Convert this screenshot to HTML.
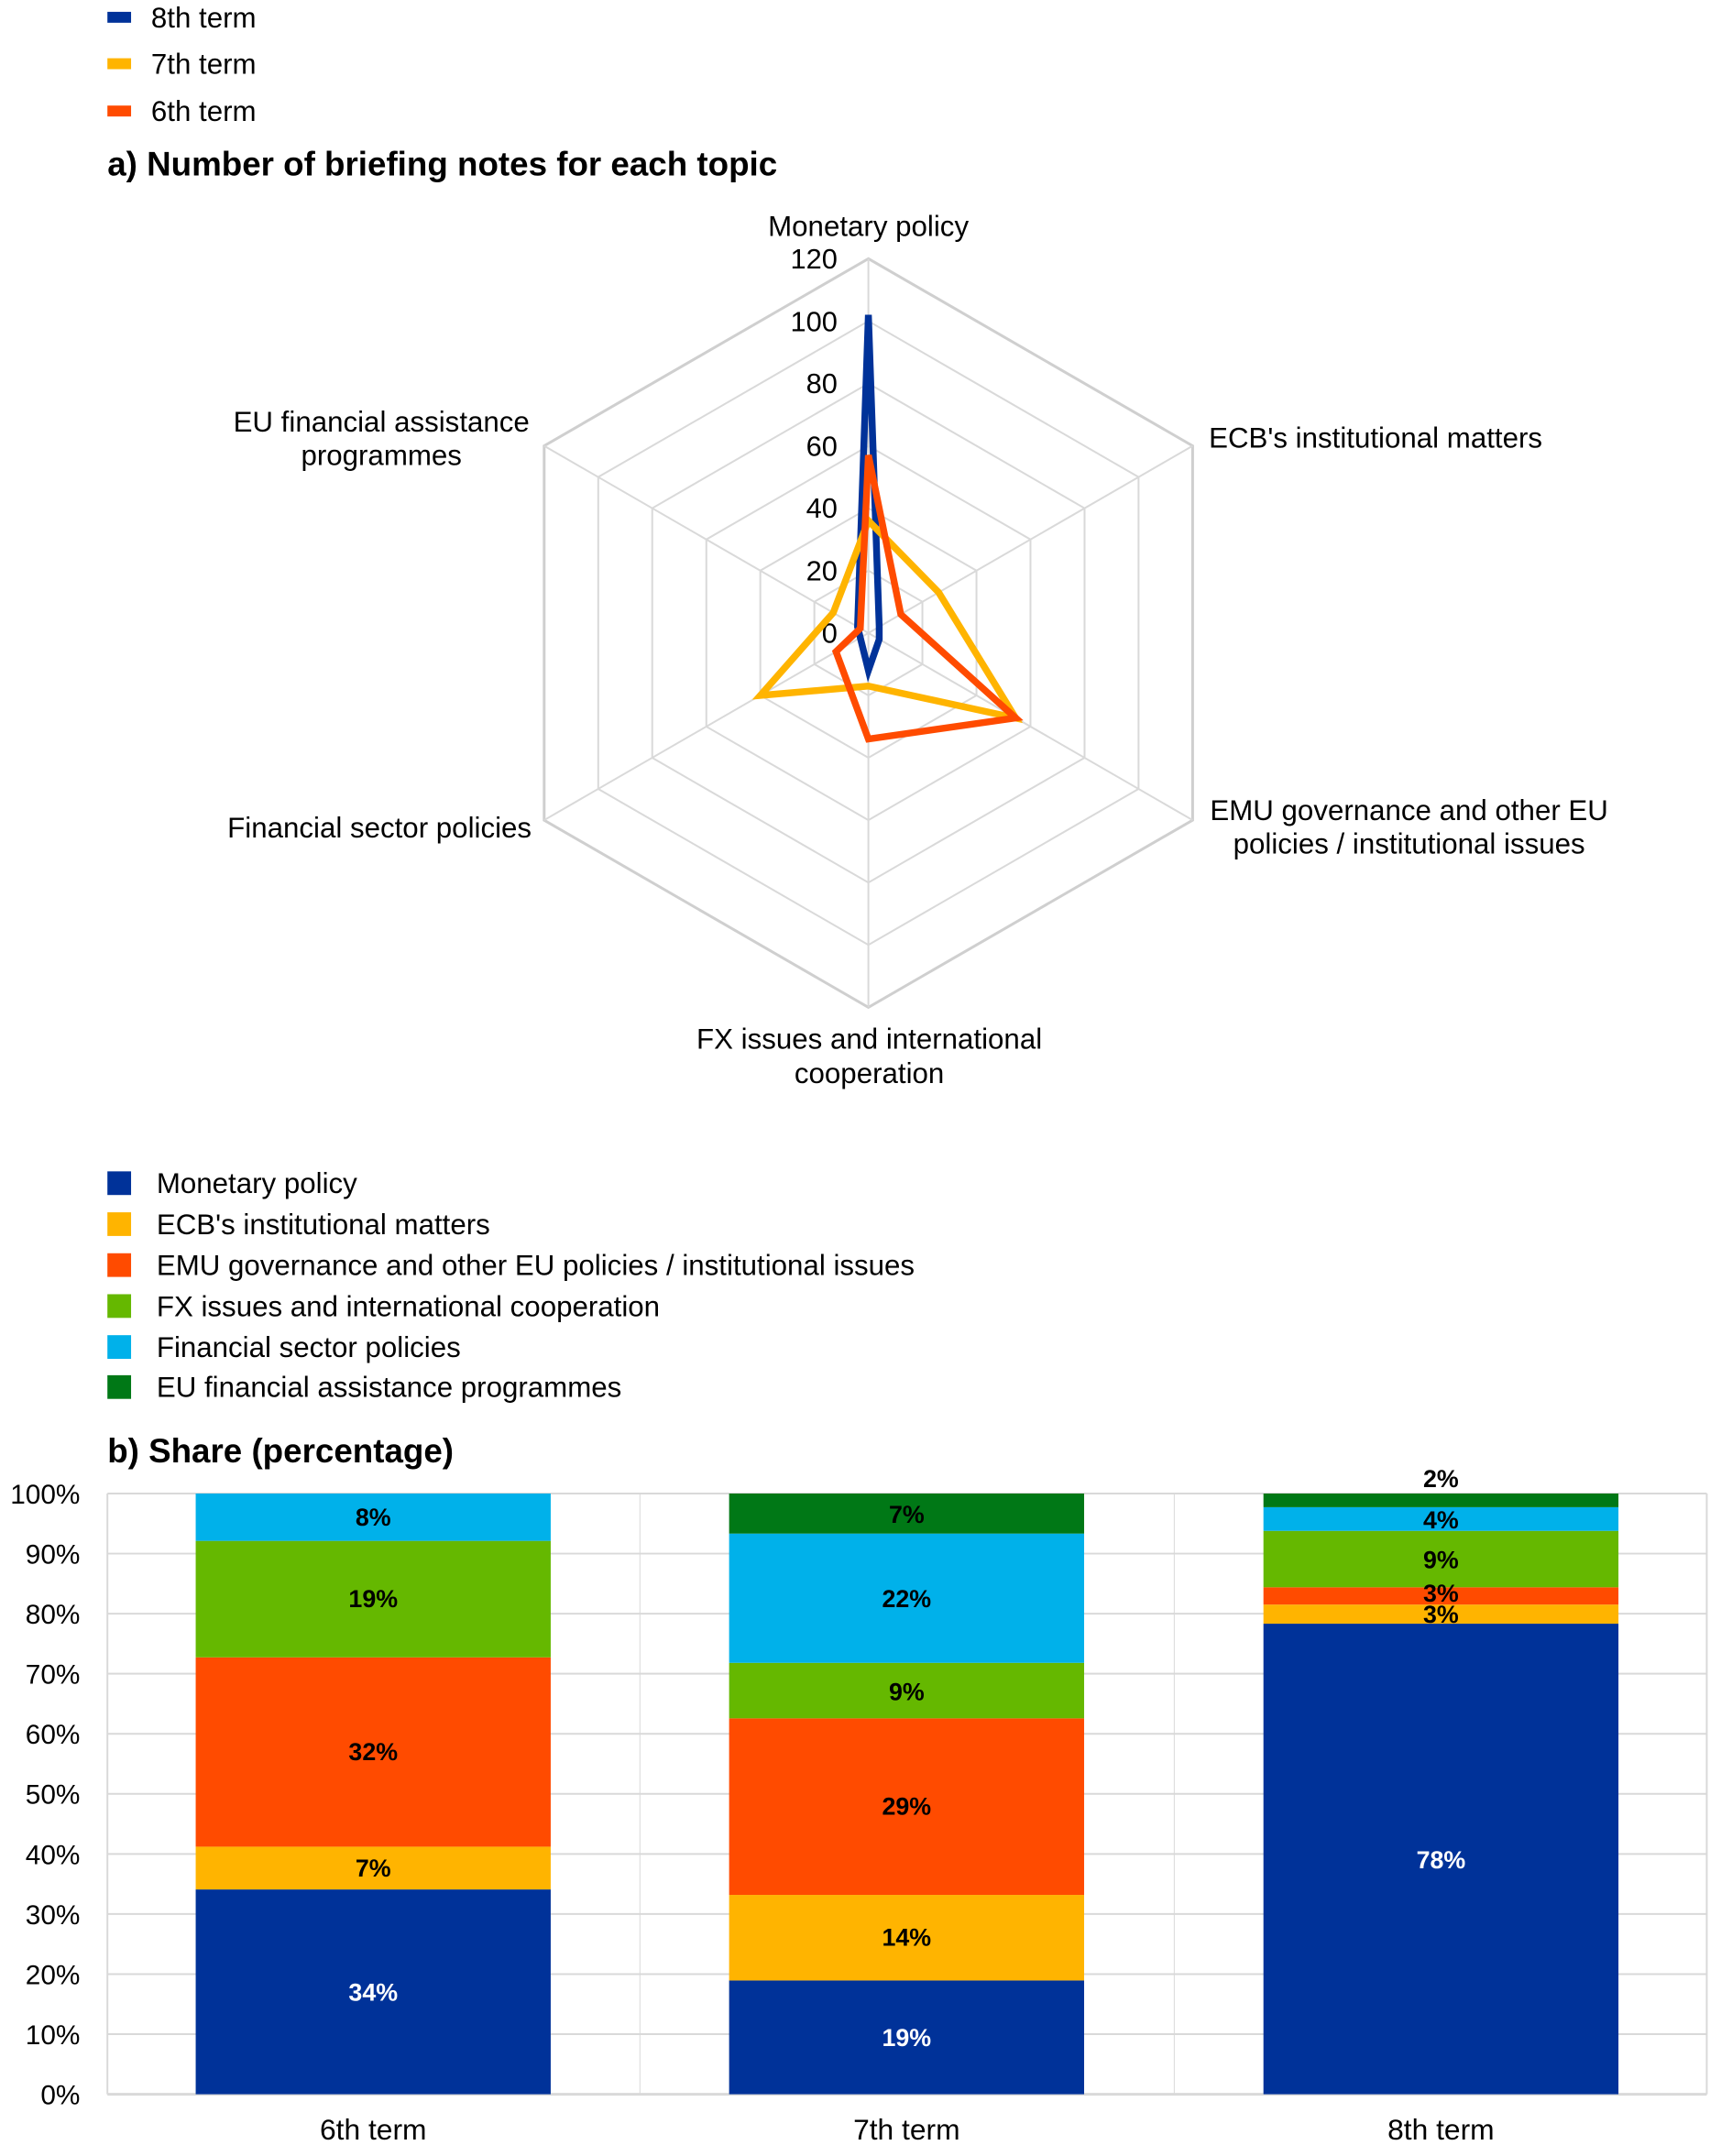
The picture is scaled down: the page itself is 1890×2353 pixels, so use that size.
<!DOCTYPE html>
<html><head><meta charset="utf-8"><style>
body{margin:0;background:#fff}
svg{display:block;font-family:"Liberation Sans",Arial,sans-serif}
</style></head><body>
<svg width="1890" height="2353" viewBox="0 0 1890 2353" xmlns="http://www.w3.org/2000/svg">
<g transform="scale(0.9933)">
<!-- legend a -->
<rect x="118" y="13" width="26" height="12" fill="#003299"/>
<rect x="118" y="64" width="26" height="12" fill="#ffb400"/>
<rect x="118" y="116" width="26" height="12" fill="#ff4b00"/>
<g font-size="31.5" fill="#000">
<text x="166" y="30">8th term</text>
<text x="166" y="81">7th term</text>
<text x="166" y="133">6th term</text>
</g>
<text x="118" y="193" font-size="37" font-weight="bold">a) Number of briefing notes for each topic</text>

<!-- radar grid -->
<g fill="none" stroke="#d9d9d9" stroke-width="2">
<polygon points="0,-1 0.866,-0.5 0.866,0.5 0,1 -0.866,0.5 -0.866,-0.5" transform="translate(954,695.5) scale(68.55)" vector-effect="non-scaling-stroke"/>
<polygon points="0,-1 0.866,-0.5 0.866,0.5 0,1 -0.866,0.5 -0.866,-0.5" transform="translate(954,695.5) scale(137.1)" vector-effect="non-scaling-stroke"/>
<polygon points="0,-1 0.866,-0.5 0.866,0.5 0,1 -0.866,0.5 -0.866,-0.5" transform="translate(954,695.5) scale(205.6)" vector-effect="non-scaling-stroke"/>
<polygon points="0,-1 0.866,-0.5 0.866,0.5 0,1 -0.866,0.5 -0.866,-0.5" transform="translate(954,695.5) scale(274.2)" vector-effect="non-scaling-stroke"/>
<polygon points="0,-1 0.866,-0.5 0.866,0.5 0,1 -0.866,0.5 -0.866,-0.5" transform="translate(954,695.5) scale(342.7)" vector-effect="non-scaling-stroke"/>
<polygon points="0,-1 0.866,-0.5 0.866,0.5 0,1 -0.866,0.5 -0.866,-0.5" transform="translate(954,695.5) scale(411.3)" vector-effect="non-scaling-stroke" stroke="#cfcfcf" stroke-width="3"/>
<line x1="954" y1="695.5" x2="954" y2="284.2"/>
<line x1="954" y1="695.5" x2="1310.2" y2="489.9"/>
<line x1="954" y1="695.5" x2="1310.2" y2="901.1"/>
<line x1="954" y1="695.5" x2="954" y2="1106.8"/>
<line x1="954" y1="695.5" x2="597.8" y2="901.1"/>
<line x1="954" y1="695.5" x2="597.8" y2="489.9"/>
</g>
<g font-size="31" text-anchor="end">
<text x="920" y="295">120</text>
<text x="920" y="364">100</text>
<text x="920" y="432">80</text>
<text x="920" y="501">60</text>
<text x="920" y="569">40</text>
<text x="920" y="638">20</text>
<text x="920" y="706">0</text>
</g>
<!-- radar series -->
<g fill="none" stroke-width="7.5" stroke-linejoin="miter">
<polygon stroke="#003299" points="954,345.9 965.9,688.6 965.9,702.4 954,736.6 945.1,700.6 942.1,688.6"/>
<polygon stroke="#ffb400" points="954,572.1 1031.2,650.9 1115.8,788.9 954,753.8 835.3,764.1 915.4,673.2"/>
<polygon stroke="#ff4b00" points="954,500.1 989.6,675 1115.8,788.9 954,812 918.4,716 945.1,690.4"/>
</g>
<!-- radar labels -->
<g font-size="31.5">
<text x="954" y="259" text-anchor="middle">Monetary policy</text>
<text x="1328" y="492">ECB's institutional matters</text>
<text x="1548" y="901" text-anchor="middle">EMU governance and other EU</text>
<text x="1548" y="938" text-anchor="middle">policies / institutional issues</text>
<text x="955" y="1152" text-anchor="middle">FX issues and international</text>
<text x="955" y="1190" text-anchor="middle">cooperation</text>
<text x="584" y="920" text-anchor="end">Financial sector policies</text>
<text x="419" y="474" text-anchor="middle">EU financial assistance</text>
<text x="419" y="511" text-anchor="middle">programmes</text>
</g>

<!-- legend b -->
<rect x="118" y="1287" width="26" height="26" fill="#003299"/>
<rect x="118" y="1332" width="26" height="26" fill="#ffb400"/>
<rect x="118" y="1377" width="26" height="26" fill="#ff4b00"/>
<rect x="118" y="1422" width="26" height="26" fill="#65b800"/>
<rect x="118" y="1467" width="26" height="26" fill="#00b1ea"/>
<rect x="118" y="1511" width="26" height="26" fill="#007816"/>
<g font-size="31.5">
<text x="172" y="1311">Monetary policy</text>
<text x="172" y="1356">ECB's institutional matters</text>
<text x="172" y="1401">EMU governance and other EU policies / institutional issues</text>
<text x="172" y="1446">FX issues and international cooperation</text>
<text x="172" y="1491">Financial sector policies</text>
<text x="172" y="1535">EU financial assistance programmes</text>
</g>
<text x="118" y="1607" font-size="37" font-weight="bold">b) Share (percentage)</text>

<!-- bar grid -->
<g stroke="#d9d9d9" stroke-width="2">
<line x1="118" y1="1641" x2="1875" y2="1641"/>
<line x1="118" y1="1707" x2="1875" y2="1707"/>
<line x1="118" y1="1773" x2="1875" y2="1773"/>
<line x1="118" y1="1839" x2="1875" y2="1839"/>
<line x1="118" y1="1905" x2="1875" y2="1905"/>
<line x1="118" y1="1971" x2="1875" y2="1971"/>
<line x1="118" y1="2037" x2="1875" y2="2037"/>
<line x1="118" y1="2103" x2="1875" y2="2103"/>
<line x1="118" y1="2169" x2="1875" y2="2169"/>
<line x1="118" y1="2235" x2="1875" y2="2235"/>
<line x1="703" y1="1641" x2="703" y2="2301" stroke-width="1"/>
<line x1="1290" y1="1641" x2="1290" y2="2301" stroke-width="1"/>
<line x1="1875" y1="1641" x2="1875" y2="2301"/>
<line x1="118" y1="1641" x2="118" y2="2301"/>
<line x1="118" y1="2301" x2="1875" y2="2301" stroke-width="3"/>
</g>
<g font-size="30" text-anchor="end">
<text x="88" y="1652">100%</text>
<text x="88" y="1718">90%</text>
<text x="88" y="1784">80%</text>
<text x="88" y="1850">70%</text>
<text x="88" y="1916">60%</text>
<text x="88" y="1982">50%</text>
<text x="88" y="2048">40%</text>
<text x="88" y="2114">30%</text>
<text x="88" y="2180">20%</text>
<text x="88" y="2246">10%</text>
<text x="88" y="2312">0%</text>
</g>
<!-- bars 6th -->
<rect x="215" y="2076" width="390" height="225" fill="#003299"/>
<rect x="215" y="2029" width="390" height="47" fill="#ffb400"/>
<rect x="215" y="1821" width="390" height="208" fill="#ff4b00"/>
<rect x="215" y="1693" width="390" height="128" fill="#65b800"/>
<rect x="215" y="1641" width="390" height="52" fill="#00b1ea"/>
<!-- bars 7th -->
<rect x="801" y="2176" width="390" height="125" fill="#003299"/>
<rect x="801" y="2082" width="390" height="94" fill="#ffb400"/>
<rect x="801" y="1888" width="390" height="194" fill="#ff4b00"/>
<rect x="801" y="1827" width="390" height="61" fill="#65b800"/>
<rect x="801" y="1685" width="390" height="142" fill="#00b1ea"/>
<rect x="801" y="1641" width="390" height="44" fill="#007816"/>
<!-- bars 8th -->
<rect x="1388" y="1784" width="390" height="517" fill="#003299"/>
<rect x="1388" y="1763" width="390" height="21" fill="#ffb400"/>
<rect x="1388" y="1744" width="390" height="19" fill="#ff4b00"/>
<rect x="1388" y="1682" width="390" height="62" fill="#65b800"/>
<rect x="1388" y="1656" width="390" height="26" fill="#00b1ea"/>
<rect x="1388" y="1641" width="390" height="15" fill="#007816"/>
<g font-size="27" font-weight="bold" text-anchor="middle">
<text x="410" y="2198" fill="#fff">34%</text>
<text x="410" y="2062">7%</text>
<text x="410" y="1934">32%</text>
<text x="410" y="1766">19%</text>
<text x="410" y="1676">8%</text>
<text x="996" y="2248" fill="#fff">19%</text>
<text x="996" y="2138">14%</text>
<text x="996" y="1994">29%</text>
<text x="996" y="1868">9%</text>
<text x="996" y="1766">22%</text>
<text x="996" y="1673" fill="#000">7%</text>
<text x="1583" y="2053" fill="#fff">78%</text>
<text x="1583" y="1783">3%</text>
<text x="1583" y="1760">3%</text>
<text x="1583" y="1723">9%</text>
<text x="1583" y="1679">4%</text>
<text x="1583" y="1634">2%</text>
</g>
<g font-size="32" text-anchor="middle">
<text x="410" y="2351">6th term</text>
<text x="996" y="2351">7th term</text>
<text x="1583" y="2351">8th term</text>
</g>
</g>
</svg>
</body></html>
